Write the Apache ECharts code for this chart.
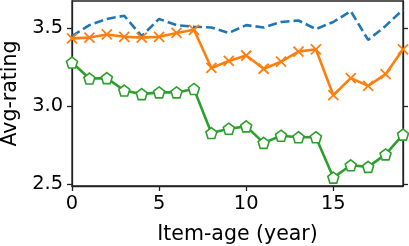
<!DOCTYPE html>
<html><head><meta charset="utf-8">
<script src="https://cdn.jsdelivr.net/npm/echarts@6/dist/echarts.min.js"></script>
<style>html,body{margin:0;padding:0;background:#fff}#c{width:409px;height:246px}</style>
</head><body><div id="c"></div>
<script>
const ages = [0,1,2,3,4,5,6,7,8,9,10,11,12,13,14,15,16,17,18,19];
const blueVals = [3.45,3.52,3.56,3.58,3.45,3.56,3.52,3.51,3.505,3.47,3.52,3.505,3.54,3.55,3.495,3.54,3.61,3.425,3.515,3.62];
const orangeVals = [3.435,3.44,3.46,3.445,3.44,3.445,3.47,3.49,3.245,3.29,3.325,3.24,3.285,3.35,3.365,3.07,3.18,3.13,3.205,3.365];
const greenVals = [3.28,3.177,3.18,3.10,3.077,3.088,3.088,3.11,2.827,2.855,2.87,2.764,2.81,2.80,2.80,2.541,2.62,2.61,2.69,2.817];
const xTicks = [0,5,10,15];
const yTicks = [2.5,3.0,3.5];

const font = 'DejaVu Sans';
const fs = 19.4;
const fsName = 20.5;
const pair = a => a.map((v,i)=>[ages[i], v]);
const chart = echarts.init(document.getElementById('c'), null, {renderer:'canvas'});
const axisLineStyle = {color:'#222', width:1.3};
chart.setOption({
  animation:false,
  grid:{left:72, right:6, top:1, bottom:60, show:true, borderColor:'#222', borderWidth:1.3,
    containLabel:false, outerBoundsMode:'none'},
  xAxis:{type:'value', min:0, max:19, interval:5,
    axisLine:{show:true, lineStyle:axisLineStyle},
    axisTick:{show:true, length:5, lineStyle:axisLineStyle, customValues:xTicks},
    axisLabel:{color:'#000', fontFamily:font, fontSize:fs, margin:8, customValues:xTicks},
    splitLine:{show:false},
    name:'Item-age (year)', nameLocation:'middle', nameGap:38,
    nameTextStyle:{color:'#000', fontFamily:font, fontSize:fsName}},
  yAxis:[{type:'value', min:2.487, max:3.675,
    axisLine:{show:true, lineStyle:axisLineStyle},
    axisTick:{show:true, length:5, lineStyle:axisLineStyle, customValues:yTicks},
    axisLabel:{color:'#000', fontFamily:font, fontSize:fs, margin:9, customValues:yTicks,
      formatter:v=>v.toFixed(1)},
    splitLine:{show:false},
    name:'Avg-rating', nameLocation:'middle', nameGap:44, nameRotate:90,
    nameTextStyle:{color:'#000', fontFamily:font, fontSize:fsName}},
   {type:'value', position:'right', min:2.487, max:3.675,
    axisLine:{show:true, lineStyle:axisLineStyle},
    axisTick:{show:true, length:5, lineStyle:axisLineStyle, customValues:yTicks},
    axisLabel:{show:false}, splitLine:{show:false}}],
  series:[
    {type:'line', data:pair(blueVals), showSymbol:false, symbol:'none',
      lineStyle:{color:'#1f77b4', width:2.6, type:[9,4]}, z:2},
    {type:'line', data:pair(orangeVals), symbol:'path://M0,0L10,10M0,10L10,0', symbolSize:10,
      lineStyle:{color:'#ff7f0e', width:2.6},
      itemStyle:{color:'#ff7f0e', borderColor:'#ff7f0e', borderWidth:1.8}, z:3},
    {type:'line', data:pair(greenVals), symbol:'path://M0,-10L9.51,-3.09L5.88,8.09L-5.88,8.09L-9.51,-3.09Z', symbolSize:11,
      lineStyle:{color:'#2ca02c', width:2.6},
      itemStyle:{color:'#ffffff', borderColor:'#2ca02c', borderWidth:1.6}, z:4}
  ]
});
</script></body></html>
